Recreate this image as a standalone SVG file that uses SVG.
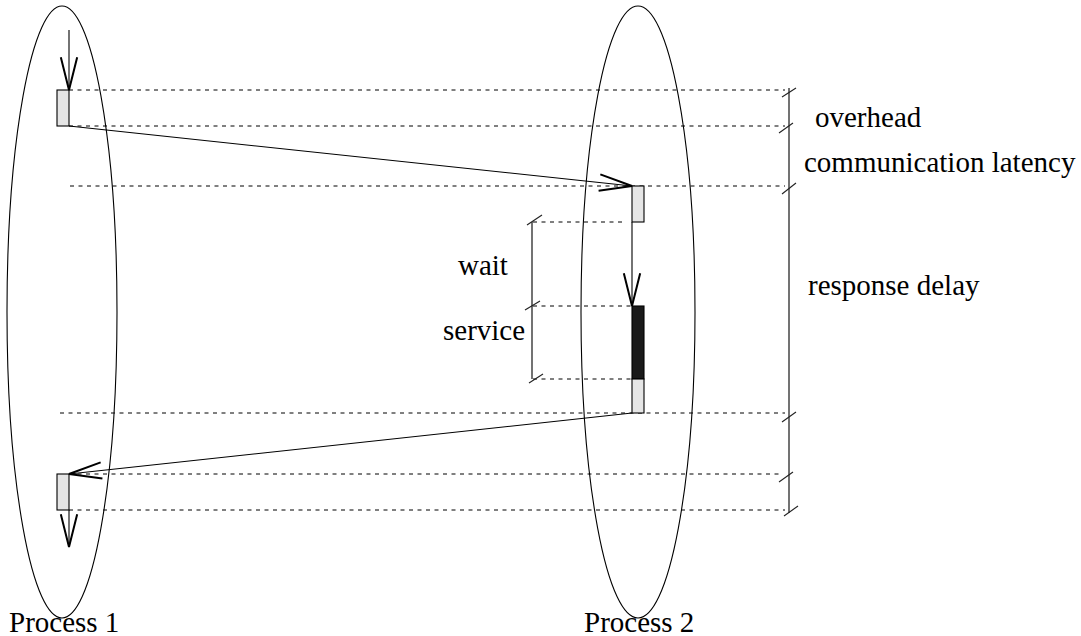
<svg xmlns="http://www.w3.org/2000/svg" width="1081" height="636" viewBox="0 0 1081 636">
  <style>
    .outline { fill: none; stroke: #000; stroke-width: 1.1; }
    .line { fill: none; stroke: #000; stroke-width: 1.1; }
    .dots { fill: none; stroke: #000; stroke-width: 1; stroke-dasharray: 4 4.5; }
    .tick { fill: none; stroke: #222; stroke-width: 1.1; }
    .bar { fill: none; stroke: #444; stroke-width: 1.5; }
    .idle { fill: #e5e5e5; stroke: #000; stroke-width: 1.1; }
    .busy { fill: #1a1a1a; stroke: #000; stroke-width: 1.1; }
    .label { font-family: "Liberation Serif", "Times New Roman", serif; font-size: 29px; fill: #000; }
  </style>
  <defs>
    <marker id="vee" markerUnits="userSpaceOnUse" markerWidth="40" markerHeight="40" viewBox="-20 -10 22 20" refX="0" refY="0" orient="auto" overflow="visible">
      <path d="M -18 -4.5 L 0 0 L -18 4.5" fill="none" stroke="#000" stroke-width="1.1"/>
    </marker>
  </defs>
  <rect width="1081" height="636" fill="#fff"/>

  <!-- process lifelines -->
  <g id="process1">
    <ellipse class="outline" cx="62" cy="312" rx="55" ry="306"/>
    <text class="label" x="9" y="632">Process 1</text>
  </g>
  <g id="process2">
    <ellipse class="outline" cx="638" cy="312" rx="57" ry="306"/>
    <text class="label" x="584" y="632">Process 2</text>
  </g>

  <!-- timing guides -->
  <g id="guides">
    <line class="dots" x1="69" y1="90" x2="785" y2="90"/>
    <line class="dots" x1="69" y1="126" x2="785" y2="126"/>
    <line class="dots" x1="70" y1="186" x2="785" y2="186"/>
    <line class="dots" x1="533" y1="222" x2="625" y2="222"/>
    <line class="dots" x1="533" y1="306" x2="632" y2="306"/>
    <line class="dots" x1="533" y1="379" x2="632" y2="379"/>
    <line class="dots" x1="60" y1="413" x2="785" y2="413"/>
    <line class="dots" x1="69" y1="474" x2="780" y2="474"/>
    <line class="dots" x1="69" y1="510" x2="785" y2="510"/>
  </g>

  <!-- activity boxes -->
  <g id="send1">
    <rect class="idle" x="57" y="90" width="12" height="36"/>
  </g>
  <g id="recv2">
    <rect class="idle" x="632" y="186" width="12" height="36"/>
  </g>
  <g id="service2">
    <rect class="busy" x="632" y="306" width="12" height="73"/>
  </g>
  <g id="reply2">
    <rect class="idle" x="632" y="379" width="12" height="34"/>
  </g>
  <g id="recv1">
    <rect class="idle" x="57" y="474" width="12" height="36"/>
  </g>

  <!-- messages and flow of control -->
  <g id="connectors">
    <line class="line" x1="69" y1="30" x2="69" y2="90" marker-end="url(#vee)"/>
    <line class="line" x1="69" y1="126" x2="632" y2="186" marker-end="url(#vee)"/>
    <line class="line" x1="632" y1="222" x2="632" y2="306" marker-end="url(#vee)"/>
    <line class="line" x1="632" y1="413" x2="69" y2="474" marker-end="url(#vee)"/>
    <line class="line" x1="69" y1="510" x2="69" y2="547" marker-end="url(#vee)"/>
  </g>

  <!-- interval brackets -->
  <g id="bracket-wait-service">
    <line class="bar" x1="532" y1="222" x2="532" y2="379"/>
    <line class="tick" x1="527" y1="225" x2="542" y2="215"/>
    <line class="tick" x1="525" y1="310" x2="540" y2="301"/>
    <line class="tick" x1="529" y1="383" x2="543" y2="374"/>
    <text class="label" x="458" y="275">wait</text>
    <text class="label" x="443" y="340">service</text>
  </g>
  <g id="bracket-timeline">
    <line class="bar" x1="789" y1="88" x2="789" y2="513"/>
    <line class="tick" x1="782" y1="97" x2="796" y2="88"/>
    <line class="tick" x1="779" y1="133" x2="793" y2="123"/>
    <line class="tick" x1="782" y1="194" x2="796" y2="183"/>
    <line class="tick" x1="782" y1="422" x2="796" y2="412"/>
    <line class="tick" x1="779" y1="482" x2="793" y2="472"/>
    <line class="tick" x1="784" y1="516" x2="798" y2="506"/>
    <text class="label" x="815" y="127">overhead</text>
    <text class="label" x="804" y="172">communication latency</text>
    <text class="label" x="808" y="295">response delay</text>
  </g>
</svg>
